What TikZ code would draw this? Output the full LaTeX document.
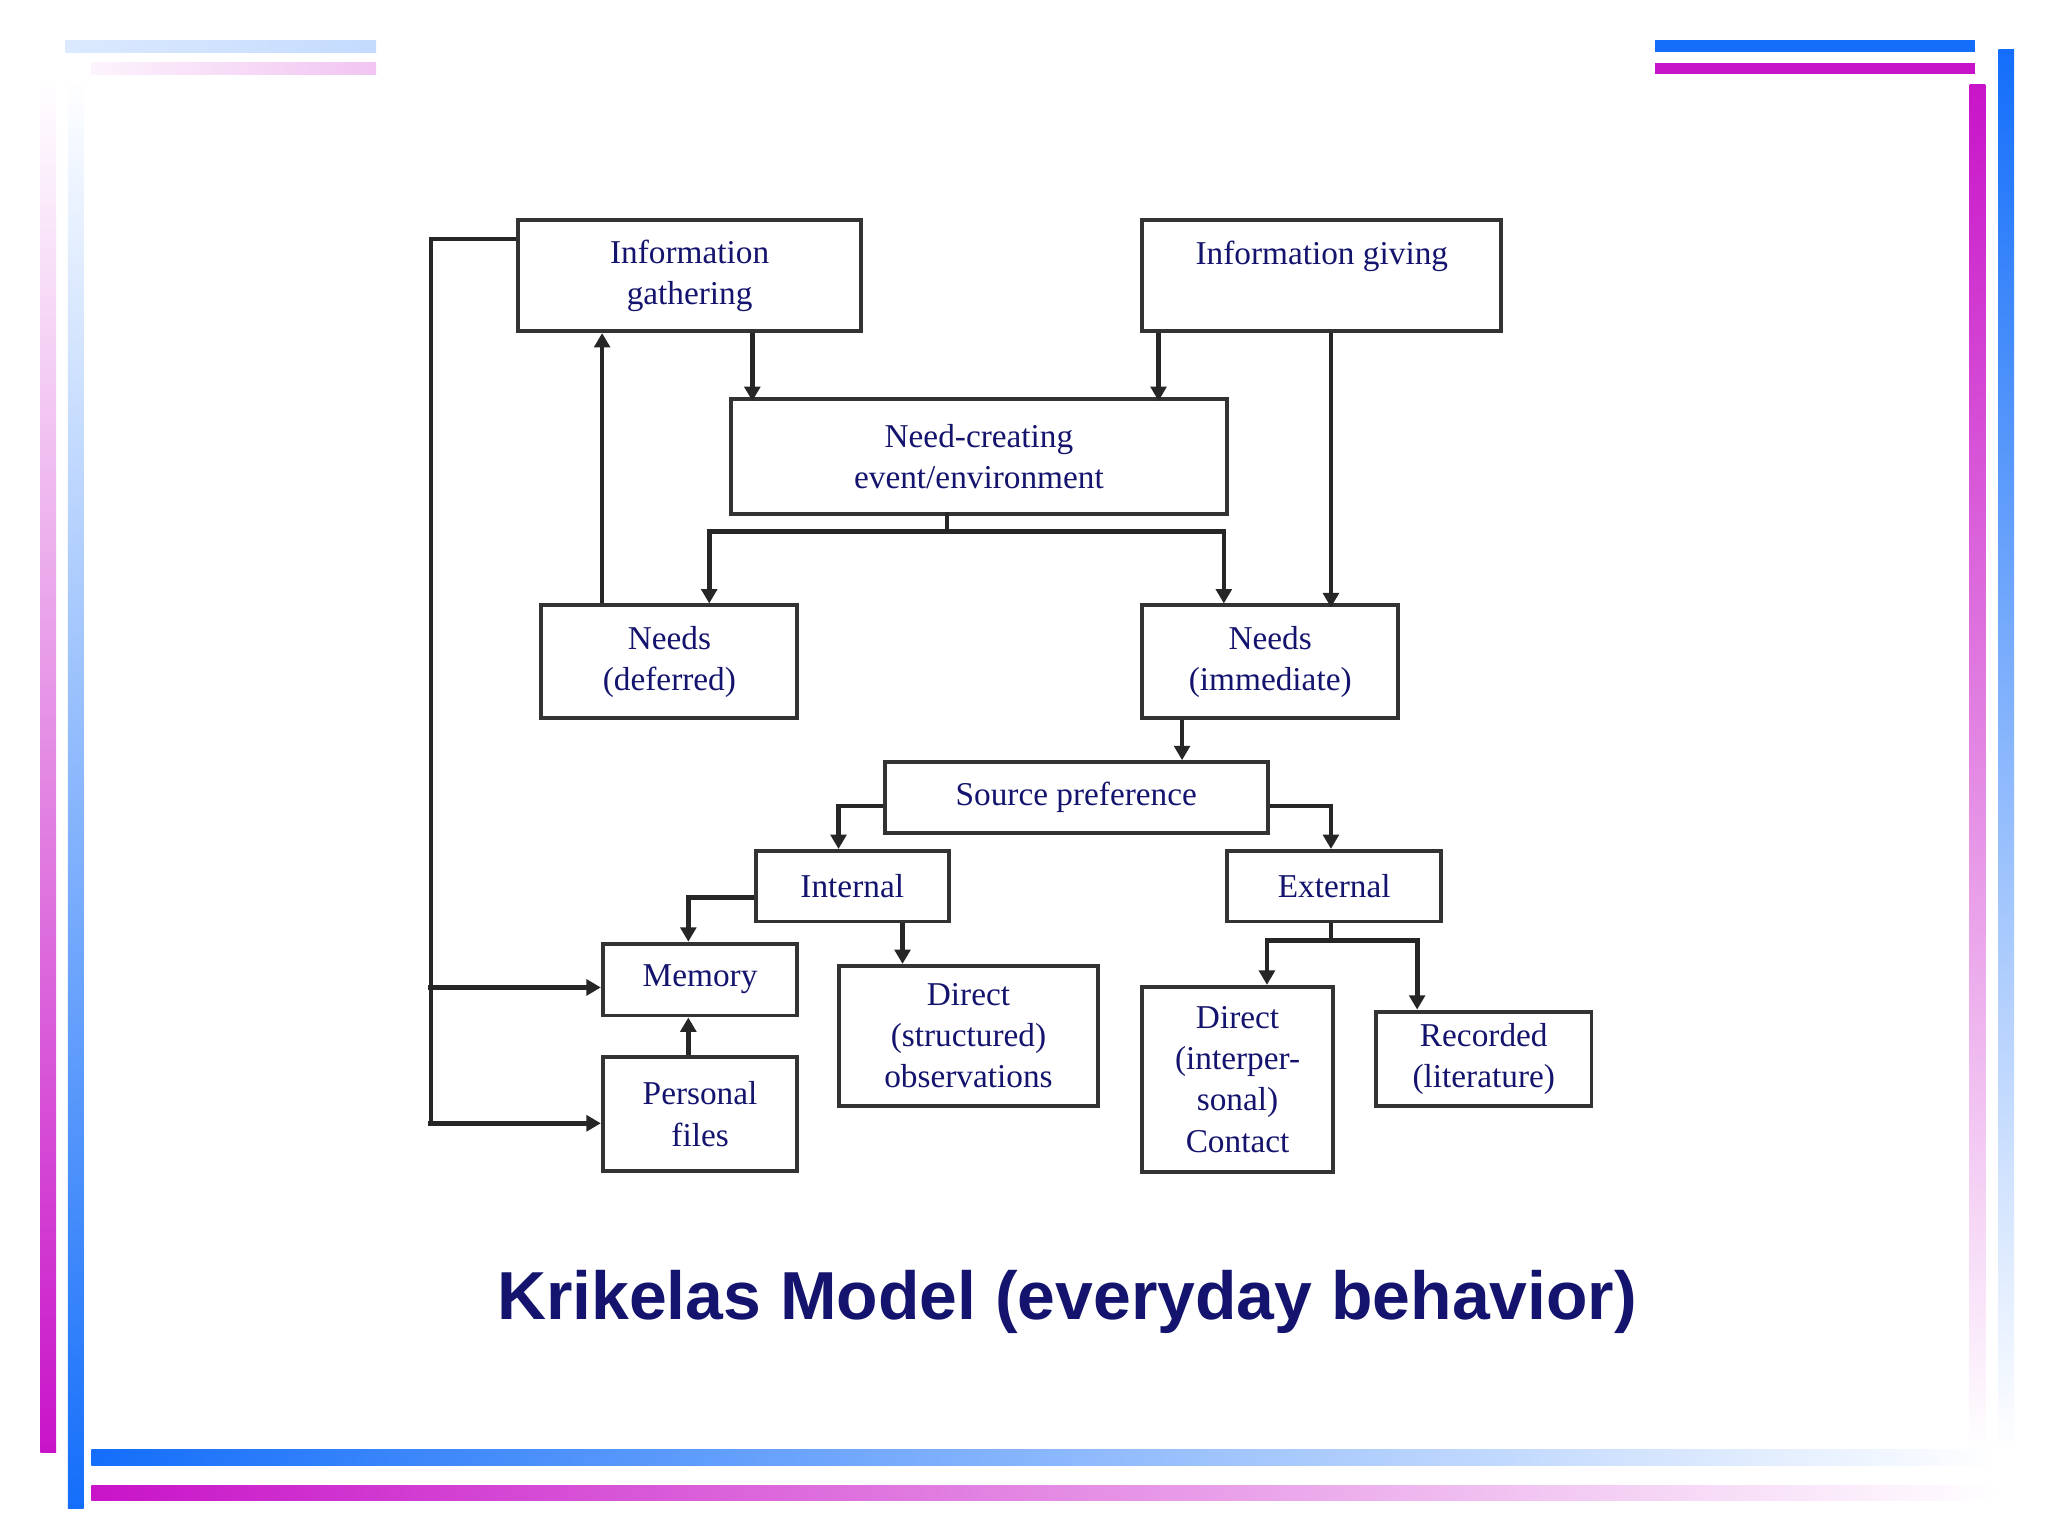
\documentclass[tikz,border=0pt]{standalone}
\usepackage{fontspec}
\setmainfont{Liberation Serif}
\newfontfamily\titlefont{Liberation Sans}
\usetikzlibrary{arrows.meta}
\definecolor{navy}{RGB}{20,20,110}
\definecolor{bblue}{RGB}{20,110,250}
\definecolor{mag}{RGB}{200,20,200}
\begin{document}
\begin{tikzpicture}[x=1pt,y=-1pt,
  box/.style={draw=black!80,line width=3pt,fill=white,text=navy,font=\fontsize{25.5}{31.5}\selectfont,align=center,inner sep=0pt,anchor=north west},
  ar/.style={line width=3.6pt,draw=black!85,-{Triangle[length=11pt,width=12pt]}},
  ln/.style={line width=3.6pt,draw=black!85}]
\useasboundingbox (0,0) rectangle (1568,1176);
\fill[white] (0,0) rectangle (1568,1176);
% decorations
\shade[left color=bblue!15,right color=bblue!25] (50,31) rectangle (288,40);
\shade[left color=mag!5,right color=mag!25] (70,48) rectangle (288,57);
\fill[bblue] (1267,31) rectangle (1512,40);
\fill[mag] (1267,48) rectangle (1512,57);
\shade[top color=white,bottom color=mag] (31,60) rectangle (43,1112);
\shade[top color=white,bottom color=bblue] (52,60) rectangle (64,1155);
\shade[top color=mag,bottom color=white] (1508,65) rectangle (1520,1112);
\shade[top color=bblue,bottom color=white] (1530,38) rectangle (1542,1112);
\shade[left color=bblue,right color=white] (70,1110) rectangle (1530,1122);
\shade[left color=mag,right color=white] (70,1137) rectangle (1530,1149);
% boxes
\node[box,minimum width=263,minimum height=85] (ig) at (395,167) {Information\\gathering};
\node[box,minimum width=275,minimum height=85] (igv) at (873,167) {};
\node[text=navy,font=\fontsize{25.5}{31.5}\selectfont] (igvt) at (1012,196) {Information giving};
\node[box,minimum width=380,minimum height=88] (nc) at (558,304) {Need-creating\\event/environment};
\node[box,minimum width=196,minimum height=86] (nd) at (413,462) {Needs\\(deferred)};
\node[box,minimum width=196,minimum height=86] (ni) at (873,462) {Needs\\(immediate)};
\node[box,minimum width=293,minimum height=54] (sp) at (676,582) {Source preference};
\node[box,minimum width=148,minimum height=54] (in) at (577,650) {Internal};
\node[box,minimum width=164,minimum height=54] (ex) at (938,650) {External};
\node[box,minimum width=149,minimum height=55] (me) at (460,721) {Memory};
\node[box,minimum width=149,minimum height=87] (pf) at (460,808) {Personal\\files};
\node[box,minimum width=198,minimum height=107] (ds) at (641,738) {Direct\\(structured)\\observations};
\node[box,minimum width=146,minimum height=142] (dc) at (873,754) {Direct\\(interper-\\sonal)\\Contact};
\node[box,minimum width=165,minimum height=72] (rc) at (1052,773) {Recorded\\(literature)};
% connectors
\draw[ar] (ig.south west)++(181,0) -- ++(0,52);
\draw[ar] (igv.south west)++(14,0) -- ++(0,52);
\draw[ar] (igv.south west)++(146,0) -- ++(0,210);
\coordinate (ncb) at (725,392);
\draw[ln] (ncb) -- (725,407);
\draw[ln] (543,407) -- (937,407);
\draw[ar] (543,405) -- (nd.north -| 543,0);
\draw[ar] (937,405) -- (ni.north -| 937,0);
\draw[ar] (nd.north -| 461,0) -- (ig.south -| 461,0);
\draw[ar] (ni.south -| 905,0) -- (sp.north -| 905,0);
\draw[ar] (sp.west |- 0,617) -- (642,617) -- (in.north -| 642,0);
\draw[ar] (sp.east |- 0,617) -- (1019,617) -- (ex.north -| 1019,0);
\draw[ar] (in.west |- 0,687) -- (527,687) -- (me.north -| 527,0);
\draw[ar] (in.south -| 691,0) -- (ds.north -| 691,0);
\draw[ln] (ex.south -| 1019,0) -- (1019,720);
\draw[ln] (970,720) -- (1085,720);
\draw[ar] (970,718) -- (dc.north -| 970,0);
\draw[ar] (1085,718) -- (rc.north -| 1085,0);
\draw[ar] (pf.north -| 527,0) -- (me.south -| 527,0);
\draw[ln] (ig.west |- 0,183) -- (330,183) -- (330,860);
\draw[ar] (328,756) -- (me.west |- 0,756);
\draw[ar] (328,860) -- (pf.west |- 0,860);
% title
\node[text=navy,font=\titlefont\bfseries\fontsize{52}{62}\selectfont] (t) at (817,997) {Krikelas Model (everyday behavior)};
\end{tikzpicture}
\end{document}
